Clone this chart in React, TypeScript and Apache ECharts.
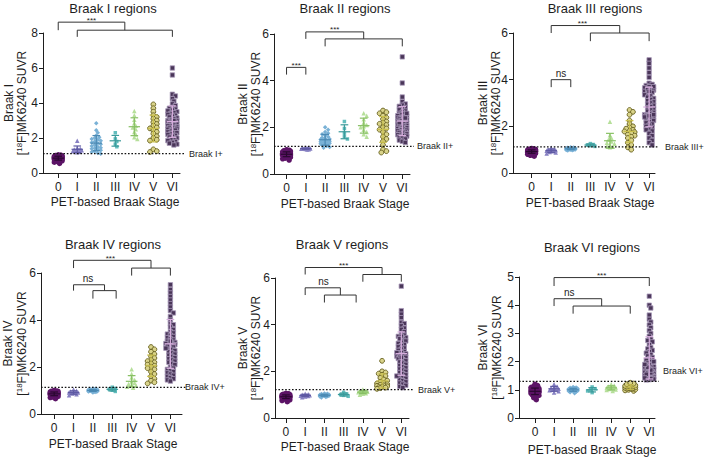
import React, { useEffect, useRef } from 'react';
import * as echarts from 'echarts';

// ---------- categories & labels ----------
const stages = ['0', 'I', 'II', 'III', 'IV', 'V', 'VI'];
const panelTitles = ['Braak I regions', 'Braak II regions', 'Braak III regions', 'Braak IV regions', 'Braak V regions', 'Braak VI regions'];
const regionNames = ['Braak I', 'Braak II', 'Braak III', 'Braak IV', 'Braak V', 'Braak VI'];
const thresholdLabels = ['Braak I+', 'Braak II+', 'Braak III+', 'Braak IV+', 'Braak V+', 'Braak VI+'];
const thresholds = [1.11, 1.18, 1.12, 1.13, 1.22, 1.3];
const yMaxes = [8, 6, 6, 6, 6, 5];
const ySteps = [2, 2, 2, 2, 2, 1];

// ---------- SUVR values per PET-based Braak stage (0..VI) ----------
const suvrBraakI = [
  [0.55, 0.62, 0.66, 0.7, 0.72, 0.74, 0.76, 0.77, 0.78, 0.8, 0.8, 0.81, 0.82, 0.83, 0.84, 0.85, 0.85, 0.86, 0.87, 0.88, 0.88, 0.89, 0.9, 0.9, 0.91, 0.92, 0.93, 0.94, 0.95, 0.96, 0.97, 0.98, 1.0, 1.02, 1.04, 0.86],
  [1.18, 1.22, 1.25, 1.27, 1.3, 1.32, 1.35, 1.38, 1.42, 1.85],
  [2.85, 2.45, 2.3, 2.15, 2.05, 2.0, 1.95, 1.9, 1.85, 1.8, 1.75, 1.7, 1.65, 1.6, 1.55, 1.5, 1.45, 1.42, 1.38, 1.35, 1.3, 1.25, 1.2, 1.15, 1.1],
  [2.3, 1.95, 1.8, 1.65, 1.5],
  [3.55, 3.3, 3.05, 2.85, 2.7, 2.6, 2.5, 2.35, 2.2, 2.05, 1.95],
  [3.92, 3.7, 3.5, 3.3, 3.2, 3.1, 3.0, 2.9, 2.8, 2.7, 2.6, 2.55, 2.45, 2.35, 2.25, 2.1, 2.0, 1.9, 1.85, 1.35, 1.25, 1.2],
  [6.0, 5.6, 4.5, 4.4, 4.25, 4.1, 3.95, 3.85, 3.75, 3.7, 3.65, 3.6, 3.55, 3.5, 3.45, 3.4, 3.35, 3.3, 3.25, 3.2, 3.15, 3.1, 3.05, 3.0, 3.0, 2.95, 2.9, 2.9, 2.85, 2.8, 2.8, 2.75, 2.7, 2.7, 2.65, 2.6, 2.6, 2.55, 2.5, 2.5, 2.45, 2.4, 2.35, 2.3, 2.3, 2.25, 2.2, 2.15, 2.1, 2.05, 2.0, 1.95, 1.9, 1.85, 1.8, 1.75, 1.7, 1.65, 1.6, 3.0],
];
const suvrBraakII = [
  [0.6, 0.65, 0.68, 0.7, 0.72, 0.74, 0.75, 0.76, 0.78, 0.79, 0.8, 0.8, 0.81, 0.82, 0.83, 0.84, 0.85, 0.85, 0.86, 0.87, 0.88, 0.88, 0.89, 0.9, 0.9, 0.91, 0.92, 0.93, 0.94, 0.95, 0.96, 0.98, 1.0, 1.02, 1.04, 0.86],
  [1.05, 1.06, 1.07, 1.08, 1.08, 1.09, 1.1, 1.1, 1.11, 1.13],
  [2.0, 1.9, 1.8, 1.75, 1.7, 1.65, 1.6, 1.55, 1.52, 1.5, 1.48, 1.45, 1.42, 1.4, 1.38, 1.36, 1.34, 1.32, 1.3, 1.28, 1.26, 1.24, 1.2, 1.16, 1.12],
  [2.25, 1.95, 1.75, 1.6, 1.5],
  [2.6, 2.5, 2.35, 2.2, 2.1, 2.05, 2.0, 1.9, 1.8, 1.7, 1.6],
  [2.72, 2.65, 2.6, 2.5, 2.42, 2.35, 2.25, 2.2, 2.15, 2.1, 2.0, 1.95, 1.9, 1.8, 1.7, 1.6, 1.5, 1.4, 1.25, 1.05, 0.98, 0.92],
  [5.02, 3.9, 3.3, 3.1, 3.0, 2.95, 2.9, 2.85, 2.8, 2.75, 2.7, 2.65, 2.6, 2.58, 2.55, 2.5, 2.48, 2.45, 2.42, 2.4, 2.38, 2.35, 2.32, 2.3, 2.28, 2.25, 2.22, 2.2, 2.18, 2.15, 2.12, 2.1, 2.08, 2.05, 2.02, 2.0, 1.98, 1.95, 1.92, 1.9, 1.88, 1.85, 1.82, 1.8, 1.78, 1.75, 1.72, 1.7, 1.68, 1.65, 1.62, 1.6, 1.55, 1.5, 1.45, 1.4, 1.35, 2.6, 2.4, 2.2],
];
const suvrBraakIII = [
  [0.72, 0.76, 0.8, 0.82, 0.84, 0.85, 0.86, 0.87, 0.88, 0.88, 0.89, 0.9, 0.9, 0.91, 0.91, 0.92, 0.92, 0.93, 0.93, 0.94, 0.94, 0.95, 0.95, 0.96, 0.96, 0.97, 0.97, 0.98, 0.99, 1.0, 1.01, 1.02, 1.03, 1.05, 0.9, 0.93],
  [0.84, 0.88, 0.9, 0.93, 0.95, 0.97, 0.99, 1.0, 1.03, 1.08],
  [0.96, 0.98, 0.99, 1.0, 1.0, 1.01, 1.01, 1.02, 1.02, 1.03, 1.03, 1.04, 1.04, 1.05, 1.05, 1.05, 1.06, 1.06, 1.07, 1.07, 1.08, 1.09, 1.1, 1.03, 1.04],
  [1.14, 1.17, 1.2, 1.22, 1.26],
  [2.2, 1.62, 1.5, 1.42, 1.35, 1.3, 1.25, 1.2, 1.15, 1.12, 1.1],
  [2.7, 2.62, 2.5, 2.25, 2.1, 2.0, 1.95, 1.9, 1.85, 1.8, 1.78, 1.75, 1.7, 1.65, 1.6, 1.55, 1.5, 1.4, 1.3, 1.2, 1.1, 1.0],
  [4.85, 4.7, 4.5, 4.3, 4.1, 3.85, 3.8, 3.75, 3.7, 3.65, 3.6, 3.55, 3.5, 3.45, 3.4, 3.35, 3.3, 3.25, 3.2, 3.15, 3.1, 3.05, 3.0, 2.95, 2.9, 2.85, 2.8, 2.75, 2.7, 2.65, 2.6, 2.55, 2.5, 2.5, 2.45, 2.45, 2.4, 2.4, 2.35, 2.3, 2.25, 2.2, 2.15, 2.1, 2.05, 2.0, 1.95, 1.9, 1.85, 1.8, 1.7, 1.6, 1.5, 1.4, 1.3, 1.2, 3.6, 3.5, 2.5, 2.4, 3.7, 2.45],
];
const suvrBraakIV = [
  [0.65, 0.7, 0.72, 0.75, 0.77, 0.78, 0.8, 0.8, 0.81, 0.82, 0.83, 0.83, 0.84, 0.85, 0.85, 0.86, 0.86, 0.87, 0.87, 0.88, 0.88, 0.89, 0.89, 0.9, 0.9, 0.91, 0.92, 0.93, 0.94, 0.95, 0.96, 0.97, 0.98, 1.0, 0.84, 0.87],
  [0.8, 0.84, 0.87, 0.89, 0.91, 0.92, 0.94, 0.96, 0.99, 1.04],
  [0.92, 0.94, 0.95, 0.96, 0.97, 0.97, 0.98, 0.98, 0.99, 0.99, 1.0, 1.0, 1.0, 1.01, 1.01, 1.02, 1.02, 1.03, 1.03, 1.04, 1.05, 1.06, 1.07, 1.08, 1.0],
  [0.96, 1.01, 1.05, 1.09, 1.14],
  [1.9, 1.7, 1.55, 1.45, 1.38, 1.32, 1.28, 1.24, 1.2, 1.16, 1.12],
  [2.85, 2.75, 2.65, 2.55, 2.45, 2.38, 2.3, 2.25, 2.2, 2.15, 2.1, 2.05, 2.0, 1.95, 1.9, 1.8, 1.7, 1.6, 1.5, 1.42, 1.35, 1.3],
  [5.5, 5.3, 5.15, 5.0, 4.85, 4.7, 4.55, 4.4, 4.3, 4.15, 4.0, 3.85, 3.8, 3.7, 3.6, 3.5, 3.45, 3.4, 3.35, 3.3, 3.25, 3.2, 3.15, 3.1, 3.05, 3.0, 3.0, 2.95, 2.9, 2.85, 2.8, 2.75, 2.7, 2.65, 2.6, 2.55, 2.5, 2.45, 2.4, 2.35, 2.3, 2.25, 2.2, 2.15, 2.1, 2.0, 1.95, 1.9, 1.85, 1.8, 1.75, 1.7, 1.65, 1.6, 1.55, 1.5, 1.45, 1.4, 3.0, 2.9, 3.1, 2.8],
];
const suvrBraakV = [
  [0.7, 0.75, 0.78, 0.8, 0.82, 0.84, 0.85, 0.86, 0.87, 0.88, 0.88, 0.89, 0.9, 0.9, 0.91, 0.91, 0.92, 0.92, 0.93, 0.93, 0.94, 0.94, 0.95, 0.95, 0.96, 0.97, 0.98, 0.99, 1.0, 1.01, 1.02, 1.04, 1.06, 0.9, 0.92, 0.93],
  [0.89, 0.92, 0.94, 0.95, 0.96, 0.97, 0.98, 1.0, 1.02, 1.04],
  [0.88, 0.9, 0.92, 0.93, 0.94, 0.95, 0.95, 0.96, 0.96, 0.97, 0.97, 0.98, 0.98, 0.98, 0.99, 0.99, 1.0, 1.0, 1.01, 1.02, 1.03, 1.04, 1.05, 0.97, 0.99],
  [0.93, 0.97, 1.0, 1.03, 1.1],
  [1.0, 1.04, 1.06, 1.08, 1.1, 1.1, 1.12, 1.14, 1.16, 1.18, 1.22],
  [2.45, 2.0, 1.95, 1.9, 1.85, 1.8, 1.72, 1.65, 1.6, 1.55, 1.5, 1.48, 1.45, 1.42, 1.4, 1.38, 1.36, 1.34, 1.32, 1.3, 1.28, 1.25],
  [5.65, 4.6, 4.45, 4.3, 4.1, 4.05, 3.95, 3.85, 3.8, 3.7, 3.6, 3.55, 3.5, 3.45, 3.4, 3.3, 3.25, 3.2, 3.15, 3.1, 3.05, 3.0, 2.95, 2.9, 2.85, 2.8, 2.75, 2.7, 2.65, 2.6, 2.55, 2.5, 2.45, 2.4, 2.35, 2.3, 2.25, 2.2, 2.15, 2.1, 2.05, 2.0, 1.95, 1.9, 1.85, 1.8, 1.75, 1.7, 1.65, 1.6, 1.55, 1.5, 1.45, 1.4, 1.35, 1.3, 2.7, 2.6, 2.8, 3.5, 3.4, 1.8],
];
const suvrBraakVI = [
  [0.65, 0.72, 0.76, 0.8, 0.82, 0.84, 0.86, 0.87, 0.88, 0.89, 0.9, 0.91, 0.92, 0.93, 0.93, 0.94, 0.95, 0.95, 0.96, 0.97, 0.97, 0.98, 0.99, 1.0, 1.01, 1.02, 1.03, 1.04, 1.05, 1.07, 1.09, 1.12, 1.15, 1.2, 0.94, 0.96],
  [0.9, 0.95, 0.98, 1.0, 1.02, 1.04, 1.06, 1.08, 1.12, 1.2],
  [0.88, 0.91, 0.93, 0.95, 0.96, 0.97, 0.98, 0.98, 0.99, 0.99, 1.0, 1.0, 1.01, 1.01, 1.02, 1.02, 1.03, 1.04, 1.05, 1.06, 1.07, 1.08, 1.1, 1.0, 0.97],
  [0.9, 0.96, 1.0, 1.04, 1.1],
  [0.96, 0.99, 1.01, 1.03, 1.05, 1.06, 1.08, 1.1, 1.12, 1.15, 1.2],
  [0.96, 0.98, 1.0, 1.01, 1.03, 1.04, 1.05, 1.06, 1.07, 1.08, 1.09, 1.1, 1.11, 1.12, 1.13, 1.14, 1.15, 1.16, 1.18, 1.2, 1.22, 1.25],
  [4.32, 4.0, 3.9, 3.65, 3.5, 3.4, 3.3, 3.2, 3.1, 3.0, 2.9, 2.8, 2.75, 2.7, 2.6, 2.5, 2.45, 2.4, 2.35, 2.3, 2.25, 2.2, 2.15, 2.1, 2.05, 2.0, 1.95, 1.9, 1.88, 1.85, 1.82, 1.8, 1.78, 1.75, 1.72, 1.7, 1.68, 1.65, 1.62, 1.6, 1.58, 1.55, 1.52, 1.5, 1.48, 1.46, 1.44, 1.42, 1.4, 1.38, 1.36, 1.35, 1.4, 1.45, 1.5, 1.55, 1.6, 1.7, 1.8, 1.9, 2.0, 1.42],
];
const panelValues = [suvrBraakI, suvrBraakII, suvrBraakIII, suvrBraakIV, suvrBraakV, suvrBraakVI];

// ---------- significance brackets (stage index on x, SUVR on y) ----------
const bracketsBraakI = [
  { from: 0, to: 3.5, top: 8.62, leg: 8.16, text: '***', textAt: 1.75 },
  { from: 1, to: 6, top: 8.16, leg: 7.78 },
];
const bracketsBraakII = [
  { from: 1, to: 4, top: 6.09, leg: 5.79, text: '***', textAt: 2.5 },
  { from: 2, to: 6, top: 5.79, leg: 5.47 },
  { from: 0, to: 1, top: 4.57, leg: 4.26, text: '***', textAt: 0.5 },
];
const bracketsBraakIII = [
  { from: 1, to: 4.5, top: 6.32, leg: 6.0, text: '***', textAt: 2.6 },
  { from: 3, to: 6, top: 6.0, leg: 5.65 },
  { from: 1, to: 2, top: 4.0, leg: 3.68, text: 'ns', textAt: 1.5 },
];
const bracketsBraakIV = [
  { from: 1, to: 5, top: 6.54, leg: 6.21, text: '***', textAt: 2.9 },
  { from: 4, to: 6, top: 6.21, leg: 5.89 },
  { from: 1, to: 2.6, top: 5.5, leg: 5.25, text: 'ns', textAt: 1.75 },
  { from: 2, to: 3.2, top: 5.25, leg: 4.91 },
];
const bracketsBraakV = [
  { from: 1, to: 5, top: 6.45, leg: 6.15, text: '***', textAt: 3.0 },
  { from: 4, to: 6, top: 6.15, leg: 5.84 },
  { from: 1, to: 2.83, top: 5.58, leg: 5.27, text: 'ns', textAt: 1.95 },
  { from: 2, to: 3.65, top: 5.27, leg: 4.95 },
];
const bracketsBraakVI = [
  { from: 1, to: 6, top: 4.98, leg: 4.68, text: '***', textAt: 3.5 },
  { from: 1, to: 3.5, top: 4.23, leg: 3.97, text: 'ns', textAt: 1.8 },
  { from: 2, to: 5, top: 3.97, leg: 3.7 },
];
const panelBrackets = [bracketsBraakI, bracketsBraakII, bracketsBraakIII, bracketsBraakIV, bracketsBraakV, bracketsBraakVI];

// ---------- layout (pixels) ----------
const layout = [
  { left: 43, top: 33, width: 137, height: 140, xMin: -0.8, xMax: 6.4, titleX: 113, titleY: 8, xTitleX: 115, xTitleY: 202, n1: 9, n2: 22, labelX: 189, labelDy: 0 },
  { left: 274, top: 34, width: 136, height: 140, xMin: -0.65, xMax: 6.4, titleX: 345, titleY: 8.5, xTitleX: 345, xTitleY: 204, n1: 243, n2: 256, labelX: 417, labelDy: 0 },
  { left: 513, top: 33, width: 142, height: 140, xMin: -0.95, xMax: 6.3, titleX: 595, titleY: 8.5, xTitleX: 590, xTitleY: 203, n1: 483, n2: 496, labelX: 665, labelDy: 0 },
  { left: 41, top: 273, width: 141, height: 141, xMin: -0.68, xMax: 6.6, titleX: 113, titleY: 244, xTitleX: 113, xTitleY: 444, n1: 8, n2: 22, labelX: 185, labelDy: 0 },
  { left: 275, top: 278, width: 134, height: 140, xMin: -0.57, xMax: 6.4, titleX: 342, titleY: 244, xTitleX: 345, xTitleY: 447, n1: 243, n2: 256, labelX: 418, labelDy: 0 },
  { left: 519, top: 277, width: 136, height: 141, xMin: -0.84, xMax: 6.3, titleX: 592, titleY: 247, xTitleX: 592, xTitleY: 450, n1: 483, n2: 497, labelX: 663, labelDy: -10 },
];

const FONT = "'Liberation Sans', Arial, Helvetica, sans-serif";
const INK = '#1e1e1e';

const groupStyle = [
  { symbol: 'circle', size: 5.5, color: '#5c1466', border: '#5c1466', bw: 0, bar: '#2a0830', d: 2.6, spread: 4.5 },
  { symbol: 'triangle', size: 4.5, color: '#8680c2', border: '#8680c2', bw: 0, bar: '#5e59a3', d: 3.0, spread: 5 },
  { symbol: 'diamond', size: 4.5, color: '#79b1d6', border: '#79b1d6', bw: 0, bar: '#4a89b3', d: 3.0, spread: 5 },
  { symbol: 'rect', size: 3.5, color: '#63bdbd', border: '#63bdbd', bw: 0, bar: '#3b9a9a', d: 3.0, spread: 5 },
  { symbol: 'triangle', size: 4.5, color: '#b6df9a', border: '#b6df9a', bw: 0, bar: '#88c064', d: 3.0, spread: 5 },
  { symbol: 'circle', size: 4.8, color: '#d9d38a', border: '#645e1c', bw: 0.9, bar: '#c9bf4d', d: 3.4, spread: 5.5 },
  { symbol: 'rect', size: 4.4, color: '#4a3659', border: '#a899b9', bw: 0.8, bar: '#d7aedd', d: 3.0, spread: 5.5 },
];

function swarmOffsets(vals: number[], pxX: number, pxY: number, d: number, maxOff: number) {
  const idx = vals.map((_, i) => i).sort((a, b) => vals[b] - vals[a] || a - b);
  const placed: number[][] = [];
  const out: number[] = new Array(vals.length).fill(0);
  const step = d * 0.5;
  for (const i of idx) {
    const y = vals[i] * pxY;
    let chosen: number | null = null;
    let bestScore = -1;
    let bestC = 0;
    for (let k = 0; k < 60; k++) {
      const c = k === 0 ? 0 : (k % 2 ? 1 : -1) * Math.ceil(k / 2) * step;
      if (Math.abs(c) > maxOff) break;
      let minD = Infinity;
      for (const p of placed) {
        const dd = Math.hypot(p[0] - c, p[1] - y);
        if (dd < minD) minD = dd;
      }
      if (minD >= d) { chosen = c; break; }
      if (minD > bestScore) { bestScore = minD; bestC = c; }
    }
    const c = chosen === null ? bestC : chosen;
    placed.push([c, y]);
    out[i] = c / pxX;
  }
  return out;
}

function meanSd(vals: number[]) {
  const m = vals.reduce((a, b) => a + b, 0) / vals.length;
  const v = vals.reduce((a, b) => a + (b - m) * (b - m), 0) / (vals.length - 1);
  return [m, Math.sqrt(v)];
}

function buildOption() {
  const grid: any[] = [];
  const xAxis: any[] = [];
  const yAxis: any[] = [];
  const series: any[] = [];
  const graphic: any[] = [];

  layout.forEach((L, p) => {
    const pxX = L.width / (L.xMax - L.xMin);
    const pxY = L.height / yMaxes[p];
    grid.push({ left: L.left, top: L.top, width: L.width, height: L.height, containLabel: false });
    xAxis.push({
      gridIndex: p, type: 'value', min: L.xMin, max: L.xMax,
      axisLine: { show: true, onZero: false, lineStyle: { color: INK, width: 1 } },
      axisTick: { show: true, customValues: [0, 1, 2, 3, 4, 5, 6], length: 5, lineStyle: { color: INK, width: 1 } },
      axisLabel: { customValues: [0, 1, 2, 3, 4, 5, 6], formatter: (v: number) => stages[Math.round(v)] ?? '', fontSize: 12, color: INK, fontFamily: FONT, margin: 8 },
      splitLine: { show: false },
    });
    yAxis.push({
      gridIndex: p, type: 'value', min: 0, max: yMaxes[p], interval: ySteps[p],
      axisLine: { show: true, onZero: false, lineStyle: { color: INK, width: 1 } },
      axisTick: { show: true, length: 4, lineStyle: { color: INK, width: 1 } },
      axisLabel: { fontSize: 12, color: INK, fontFamily: FONT, margin: 5 },
      splitLine: { show: false },
    });

    const groups = panelValues[p];
    groups.forEach((vals, g) => {
      const st = groupStyle[g];
      const offs = swarmOffsets(vals, pxX, pxY, st.d, st.spread);
      series.push({
        type: 'scatter', xAxisIndex: p, yAxisIndex: p, name: stages[g],
        symbol: st.symbol, symbolSize: st.size, silent: true, z: 2,
        itemStyle: { color: st.color, borderColor: st.border, borderWidth: st.bw, opacity: 1 },
        data: vals.map((v, i) => [g + offs[i], v]),
      });
    });

    // mean ± SD error bars
    const stats = groups.map((vals, g) => { const [m, s] = meanSd(vals); return [g, m, s]; });
    series.push({
      type: 'custom', xAxisIndex: p, yAxisIndex: p, clip: false, silent: true, z: 4,
      data: stats,
      renderItem: (params: any, api: any) => {
        const g = api.value(0), m = api.value(1), sd = api.value(2);
        const c = api.coord([g, m]);
        const t = api.coord([g, m + sd]);
        const b = api.coord([g, Math.max(0, m - sd)]);
        const w = pxX * 0.3, cw = pxX * 0.2;
        const style = { stroke: groupStyle[params.dataIndex].bar, lineWidth: 1.2, fill: null };
        return {
          type: 'group', children: [
            { type: 'line', shape: { x1: c[0] - w, y1: c[1], x2: c[0] + w, y2: c[1] }, style },
            { type: 'line', shape: { x1: c[0], y1: t[1], x2: c[0], y2: b[1] }, style },
            { type: 'line', shape: { x1: c[0] - cw, y1: t[1], x2: c[0] + cw, y2: t[1] }, style },
            { type: 'line', shape: { x1: c[0] - cw, y1: b[1], x2: c[0] + cw, y2: b[1] }, style },
          ],
        };
      },
    });

    // threshold line, label and significance brackets
    series.push({
      type: 'custom', xAxisIndex: p, yAxisIndex: p, clip: false, silent: true, z: 6,
      data: [[0, 0]],
      renderItem: (_params: any, api: any) => {
        const children: any[] = [];
        const a = api.coord([L.xMin, thresholds[p]]);
        const e = api.coord([L.xMax, thresholds[p]]);
        children.push({ type: 'line', shape: { x1: a[0], y1: a[1], x2: e[0] + 4, y2: a[1] }, style: { stroke: '#111', lineWidth: 1.3, lineDash: [1.6, 1.8] } });
        children.push({ type: 'text', x: L.labelX, y: a[1] + L.labelDy, style: { text: thresholdLabels[p], fontSize: 9, fill: INK, fontFamily: FONT, align: 'left', verticalAlign: 'middle' } });
        panelBrackets[p].forEach((br: any) => {
          const p1 = api.coord([br.from, br.leg]);
          const p2 = api.coord([br.from, br.top]);
          const p3 = api.coord([br.to, br.top]);
          const p4 = api.coord([br.to, br.leg]);
          children.push({ type: 'polyline', shape: { points: [p1, p2, p3, p4] }, style: { stroke: '#333', lineWidth: 1, fill: null } });
          if (br.text) {
            const tp = api.coord([br.textAt, br.top]);
            const star = br.text === '***';
            children.push({ type: 'text', x: tp[0], y: tp[1] + (star ? 2 : -1), style: { text: br.text, fontSize: star ? 8 : 10, fill: INK, fontFamily: FONT, align: 'center', verticalAlign: 'bottom' } });
          }
        });
        return { type: 'group', children };
      },
    });

    // titles
    graphic.push({ type: 'text', x: L.titleX, y: L.titleY, style: { text: panelTitles[p], fontSize: 13, fill: INK, fontFamily: FONT, align: 'center', verticalAlign: 'middle' } });
    graphic.push({ type: 'text', x: L.xTitleX, y: L.xTitleY, style: { text: 'PET-based Braak Stage', fontSize: 12, fill: INK, fontFamily: FONT, align: 'center', verticalAlign: 'middle' } });
    const yc = L.top + L.height / 2;
    graphic.push({ type: 'text', x: L.n1, y: yc, rotation: Math.PI / 2, style: { text: regionNames[p], fontSize: 12, fill: INK, fontFamily: FONT, align: 'center', verticalAlign: 'middle' } });
    graphic.push({
      type: 'text', x: L.n2, y: yc, rotation: Math.PI / 2,
      style: {
        text: '{n|[}{s|18}{n|F]MK6240 SUVR}', fill: INK, fontFamily: FONT, align: 'center', verticalAlign: 'middle',
        rich: { n: { fontSize: 12, fontFamily: FONT, fill: INK, lineHeight: 14 }, s: { fontSize: 8, fontFamily: FONT, fill: INK, lineHeight: 14, verticalAlign: 'top', padding: [0, 0, 4, 0] } },
      },
    });
  });

  return { animation: false, backgroundColor: '#ffffff', grid, xAxis, yAxis, series, graphic };
}

export default function App() {
  const ref = useRef<HTMLDivElement>(null);
  useEffect(() => {
    document.body.style.margin = '0';
    const chart = echarts.init(ref.current as HTMLDivElement, null, { renderer: 'svg', width: 706, height: 457 });
    chart.setOption(buildOption() as any);
    return () => chart.dispose();
  }, []);
  return <div ref={ref} style={{ width: 706, height: 457 }} />;
}
